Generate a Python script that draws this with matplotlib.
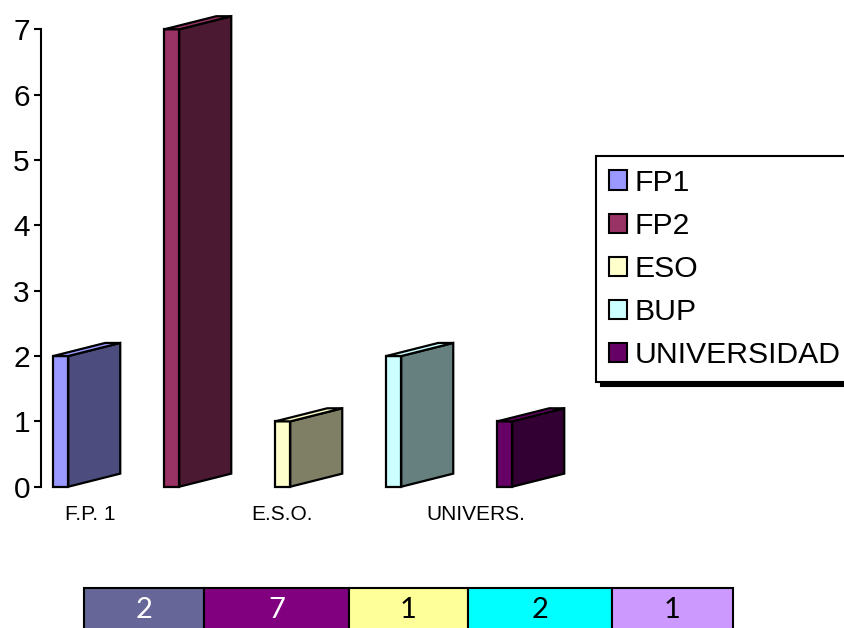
import matplotlib
matplotlib.use("Agg")
import matplotlib.pyplot as plt
from matplotlib.patches import Polygon, Patch

plt.rcParams["font.family"] = ["Liberation Sans", "DejaVu Sans"]

# data
series = ["FP1", "FP2", "ESO", "BUP", "UNIVERSIDAD"]
values = [2, 7, 1, 2, 1]
front_colors = ["#9999FF", "#993366", "#FFFFCC", "#CCFFFF", "#660066"]
side_colors = ["#4C4C7F", "#4C1933", "#7F7F66", "#667F7F", "#330033"]
cat_labels = ["F.P. 1", "E.S.O.", "UNIVERS."]
cat_pos = [0.33, 2.06, 3.81]
table_colors = ["#666699", "#800080", "#FFFF99", "#00FFFF", "#CC99FF"]
table_text_colors = ["white", "white", "black", "black", "black"]

# fake 3d geometry (data units)
W = 0.135   # front face width
DX = 0.468  # depth in x
DY = 0.2    # depth in y

fig = plt.figure(figsize=(8.45, 6.28), dpi=100)
ax = fig.add_axes([41 / 845, 141.3 / 628, 560 / 845, 457.4 / 628])

for i, v in enumerate(values):
  x0 = i
  front = Polygon([(x0, 0), (x0 + W, 0), (x0 + W, v), (x0, v)], closed=True,
                  facecolor=front_colors[i], edgecolor="black", lw=1.6, clip_on=False, zorder=3)
  side = Polygon([(x0 + W, 0), (x0 + W + DX, DY), (x0 + W + DX, v + DY), (x0 + W, v)], closed=True,
                 facecolor=side_colors[i], edgecolor="black", lw=1.6, clip_on=False, zorder=3)
  top = Polygon([(x0, v), (x0 + W, v), (x0 + W + DX, v + DY), (x0 + DX, v + DY)], closed=True,
                facecolor=front_colors[i], edgecolor="black", lw=1.6, clip_on=False, zorder=3)
  ax.add_patch(front)
  ax.add_patch(side)
  ax.add_patch(top)

ax.set_xlim(-0.111, -0.111 + 560 / 111)
ax.set_ylim(0, 7)
for s in ["top", "right", "bottom"]:
  ax.spines[s].set_visible(False)
ax.spines["left"].set_linewidth(1.5)
ax.set_yticks(range(8))
ax.tick_params(axis="y", labelsize=21.5, length=5, width=1.5, pad=3)
ax.set_xticks(cat_pos)
ax.set_xticklabels(cat_labels, fontsize=15)
ax.tick_params(axis="x", length=0, pad=13)

# legend
handles = [Patch(facecolor=c, edgecolor="black", lw=1.5) for c in front_colors]
leg = fig.legend(handles, series, loc="upper left", bbox_to_anchor=(596 / 845, 1 - 156 / 628),
                 fontsize=21.7, frameon=True, fancybox=False,
                 shadow={"ox": 3.5, "oy": -3.5, "color": "black", "alpha": 1},
                 handlelength=0.6, handleheight=0.6, handletextpad=0.25,
                 labelspacing=0.5, borderpad=0.42, borderaxespad=0)
leg.get_frame().set_edgecolor("black")
leg.get_frame().set_linewidth(1.5)

# data table
ax_t = fig.add_axes([84 / 845, -4 / 628, 649 / 845, 44 / 628])
ax_t.axis("off")
widths = [120, 145, 119, 144, 121]
tbl = ax_t.table(cellText=[[str(v) for v in values]], cellColours=[table_colors],
                 colWidths=[w / sum(widths) for w in widths], cellLoc="center",
                 bbox=[0, 0, 1, 1])
tbl.auto_set_font_size(False)
for j in range(len(values)):
  cell = tbl[0, j]
  cell.set_linewidth(1.5)
  cell.get_text().set_fontsize(21)
  cell.get_text().set_color(table_text_colors[j])
  cell.get_text().set_fontfamily(["Lato", "DejaVu Sans"])

fig.savefig("out.png", dpi=100)
